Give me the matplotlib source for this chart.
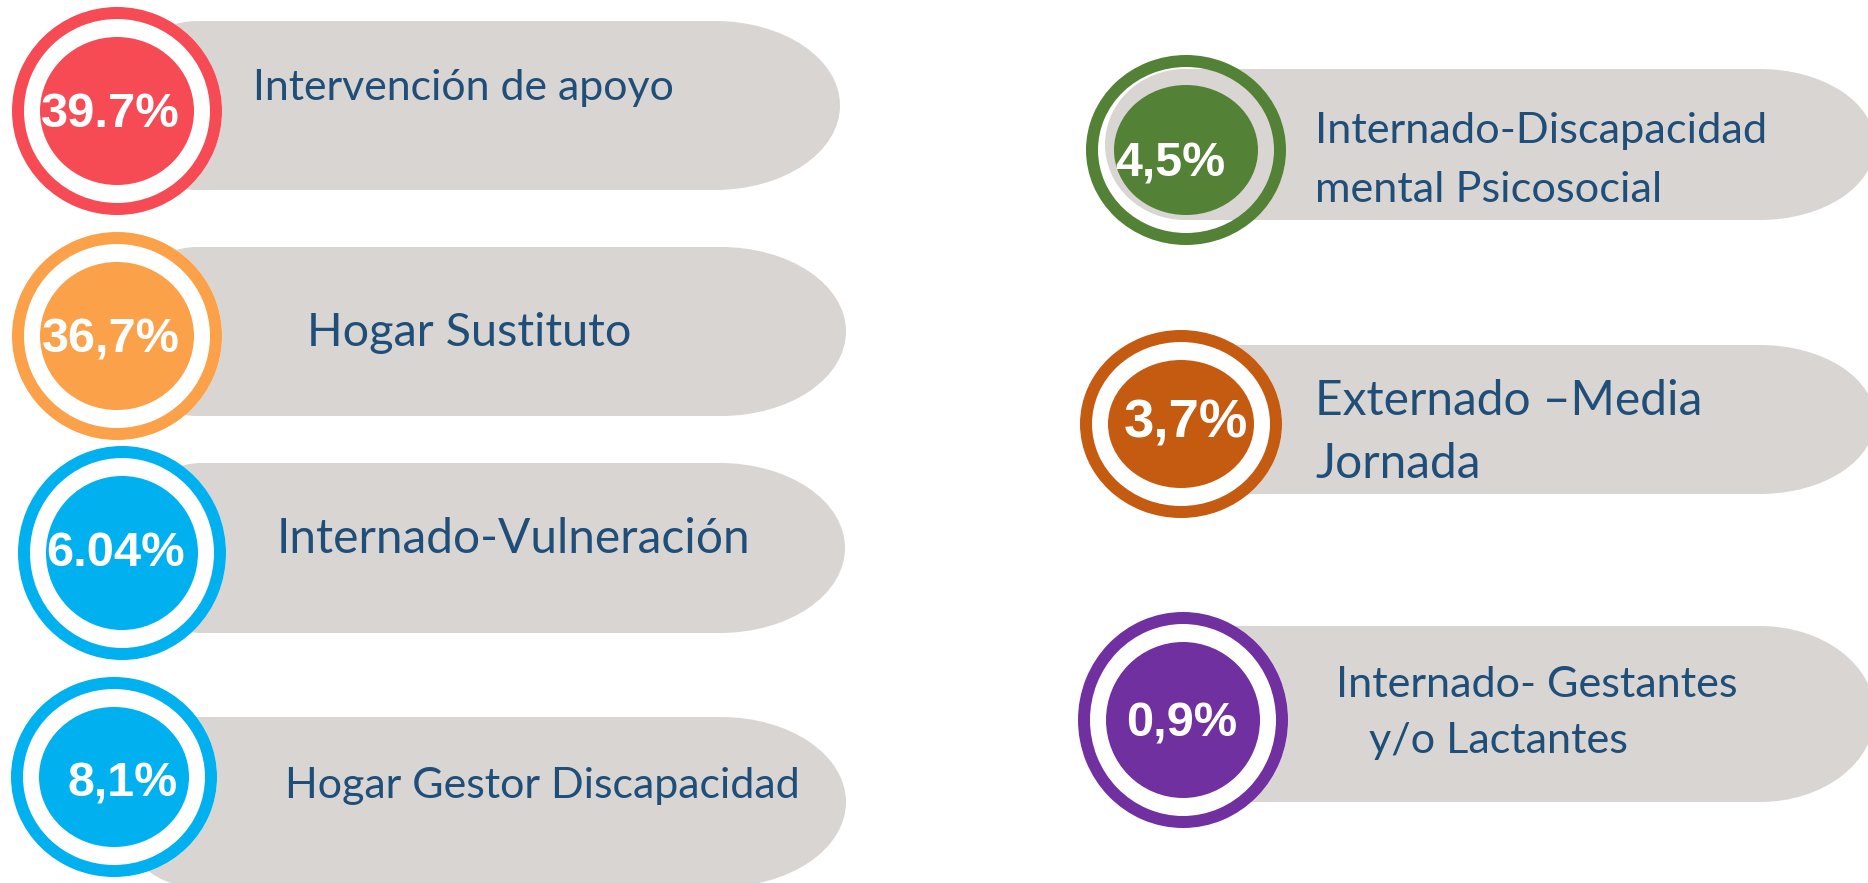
import matplotlib.pyplot as plt
from matplotlib.patches import Ellipse, Rectangle, Annulus

# data
categories = [
    ['Intervención de apoyo'],
    ['Hogar Sustituto'],
    ['Internado-Vulneración'],
    ['Hogar Gestor Discapacidad'],
    ['Internado-Discapacidad', 'mental Psicosocial'],
    ['Externado \u2013Media', 'Jornada'],
    ['Internado- Gestantes', 'y/o Lactantes'],
]
pct_values = [39.7, 36.7, 6.04, 8.1, 4.5, 3.7, 0.9]
pct_labels = ['39.7%', '36,7%', '6.04%', '8,1%', '4,5%', '3,7%', '0,9%']
ring_colors = ['#F64B55', '#FBA149', '#00B0EF', '#00B0EF', '#538135', '#C55A11', '#7030A0']

PILL = '#D9D5D3'
TEXT = '#1F4E79'

# layout (pixels, y downwards)
ring_xy = [(117, 111), (117, 336), (122, 553), (114, 777), (1186, 150), (1181, 424), (1183, 720)]
ring_r = [(105, 104), (105, 104), (104, 107), (103, 100), (100, 95), (101, 94), (105, 108)]
pill_box = [(117, 840, 21, 190), (117, 846, 247, 416), (122, 845, 463, 633), (115, 846, 717, 887),
            (1105, 1875, 69, 220), (1100, 1875, 345, 494), (1103, 1875, 626, 802)]
pill_end = [125, 125, 125, 125, 115, 115, 115]
pct_pos = [(110, 127, 139), (111, 353, 138), (116, 566, 139), (123, 797, 110),
           (1170, 176, 110), (1186, 437, 124), (1182, 736, 111)]
label_pos = [[(253, 100)], [(307, 346)], [(277, 553)], [(285, 798)],
             [(1315, 143), (1315, 202)], [(1315, 415), (1315, 478)], [(1336, 697), (1369, 753)]]
label_width = [422, 324, 474, 516, 451, 387, 402]
see_through = [False, False, False, False, True, False, False]

fig = plt.figure(figsize=(18.68, 8.83), dpi=100)
ax = fig.add_axes([0, 0, 1, 1])
ax.set_xlim(0, 1868)
ax.set_ylim(883, 0)
ax.axis('off')
renderer = fig.canvas.get_renderer()


def fit(txt, target):
    w = txt.get_window_extent(renderer).width
    txt.set_fontsize(txt.get_fontsize() * target / w)
    return txt.get_fontsize()


def draw_pill(left, right, top, bottom, rend, lend=80):
    h = bottom - top
    cy = (top + bottom) / 2
    ax.add_patch(Rectangle((left + lend, top), right - rend - left - lend, h, color=PILL, lw=0, zorder=1))
    ax.add_patch(Ellipse((left + lend, cy), 2 * lend, h, color=PILL, lw=0, zorder=1))
    ax.add_patch(Ellipse((right - rend, cy), 2 * rend, h, color=PILL, lw=0, zorder=1))


for i in range(len(categories)):
    draw_pill(*pill_box[i], pill_end[i])
    (cx, cy), (rx, ry) = ring_xy[i], ring_r[i]
    col = ring_colors[i]
    # white gap between the band and the disc (green one lets the pill show through)
    ax.add_patch(Ellipse((cx, cy), 2 * rx, 2 * ry, color='white', lw=0,
                         zorder=0.5 if see_through[i] else 2))
    ax.add_patch(Annulus((cx, cy), (rx, ry), 12, color=col, lw=0, zorder=3))
    ax.add_patch(Ellipse((cx, cy), 2 * (rx - 28), 2 * (ry - 30), color=col, lw=0, zorder=3))

    px, py, pw = pct_pos[i]
    t = ax.text(px, py, pct_labels[i], ha='center', va='baseline', color='white',
                fontsize=34, fontweight='bold', family='Liberation Sans', zorder=4)
    fit(t, pw)

    size = None
    for j, line in enumerate(categories[i]):
        lx, ly = label_pos[i][j]
        t = ax.text(lx, ly, line, ha='left', va='baseline', color=TEXT,
                    fontsize=size or 30, family='Lato', zorder=4)
        if j == 0:
            size = fit(t, label_width[i])

fig.savefig('out.png', dpi=100)
